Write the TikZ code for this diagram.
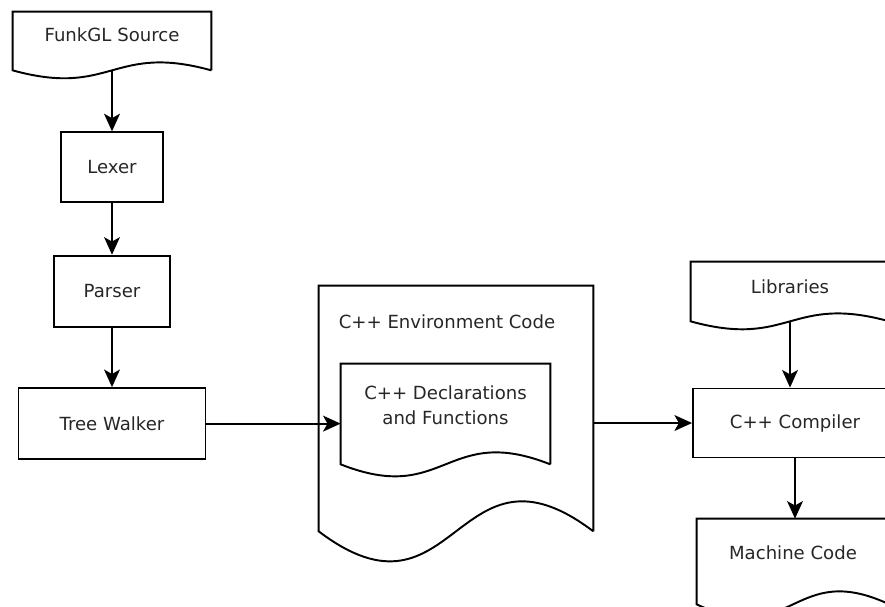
\documentclass[tikz,border=0pt]{standalone}
\usepackage{fontspec}
\setmainfont{DejaVu Sans}
\usepackage{tikz}
\usetikzlibrary{arrows.meta, positioning}
\tikzset{
    block/.style={rectangle, draw, line width=1.1pt, text centered},
    doc/.style={rectangle, align=center, text depth=#1},
    doc/.default=7pt,
    arrow/.style={line width=1.1pt, ->}
}
% document outline with a wavy bottom edge
\newcommand{\docoutline}[2]{%
    \draw[line width=1.1pt] (#1.south east) -- (#1.north east) -- (#1.north west) -- (#1.south west)
        .. controls ([yshift=-#2]#1.south) and ([yshift=#2]#1.south) .. (#1.south east);}

\begin{document}
\begin{tikzpicture}[x=0.02cm, y=-0.02cm, >={Stealth[length=10pt, width=9pt, inset=2.5pt]},
    font=\fontsize{10.3pt}{14.2pt}\selectfont, text=black!85]
    \useasboundingbox (0,0) rectangle (885,606);
    \clip (0,0) rectangle (885,606);

    % Place nodes
    \node [doc=6.8pt, minimum width=3.96cm, minimum height=1.16cm] (source) at (112,41) {FunkGL Source};
    \node [block, below=1.22cm of source, minimum width=2.04cm, minimum height=1.4cm] (lexer) {Lexer};
    \node [block, below=1.03cm of lexer, minimum width=2.32cm, minimum height=1.42cm] (parser) {Parser};
    \node [block, below=1.19cm of parser, minimum width=3.74cm, minimum height=1.42cm] (walker) {Tree Walker};

    \node [doc=0pt, minimum width=5.48cm, minimum height=4.9cm] (env) at (456,408.5) {};
    \node (envtitle) at (447,322) {C++ Environment Code};
    \node [doc=9.6pt, minimum width=4.18cm, minimum height=2cm] (decl) at (445.5,414) {C++ Declarations\\and Functions};

    \node [doc=5.1pt, minimum width=3.96cm, minimum height=1.18cm] (libs) at (790,291.5) {Libraries};
    \node [block, minimum width=4.08cm, minimum height=1.38cm] (compiler) at (795,423) {C++ Compiler};
    \node [doc=9.6pt, minimum width=3.84cm, minimum height=1.7cm] (machine) at (793,561.5) {Machine Code};

    % Document outlines
    \docoutline{source}{0.55cm}
    \docoutline{env}{2.08cm}
    \docoutline{decl}{0.83cm}
    \docoutline{libs}{0.55cm}
    \docoutline{machine}{0.9cm}

    % Draw edges
    \draw [arrow] (source.south) -- (lexer.north);
    \draw [arrow] (lexer) -- (parser);
    \draw [arrow] (parser) -- (walker);
    \draw [arrow] (walker.east) -- (walker.east -| decl.west);
    \draw [arrow] (env.east |- compiler.west) -- (compiler.west);
    \draw [arrow] (libs.south) -- (libs.south |- compiler.north);
    \draw [arrow] (compiler.south) -- (compiler.south |- machine.north);
\end{tikzpicture}
\end{document}
